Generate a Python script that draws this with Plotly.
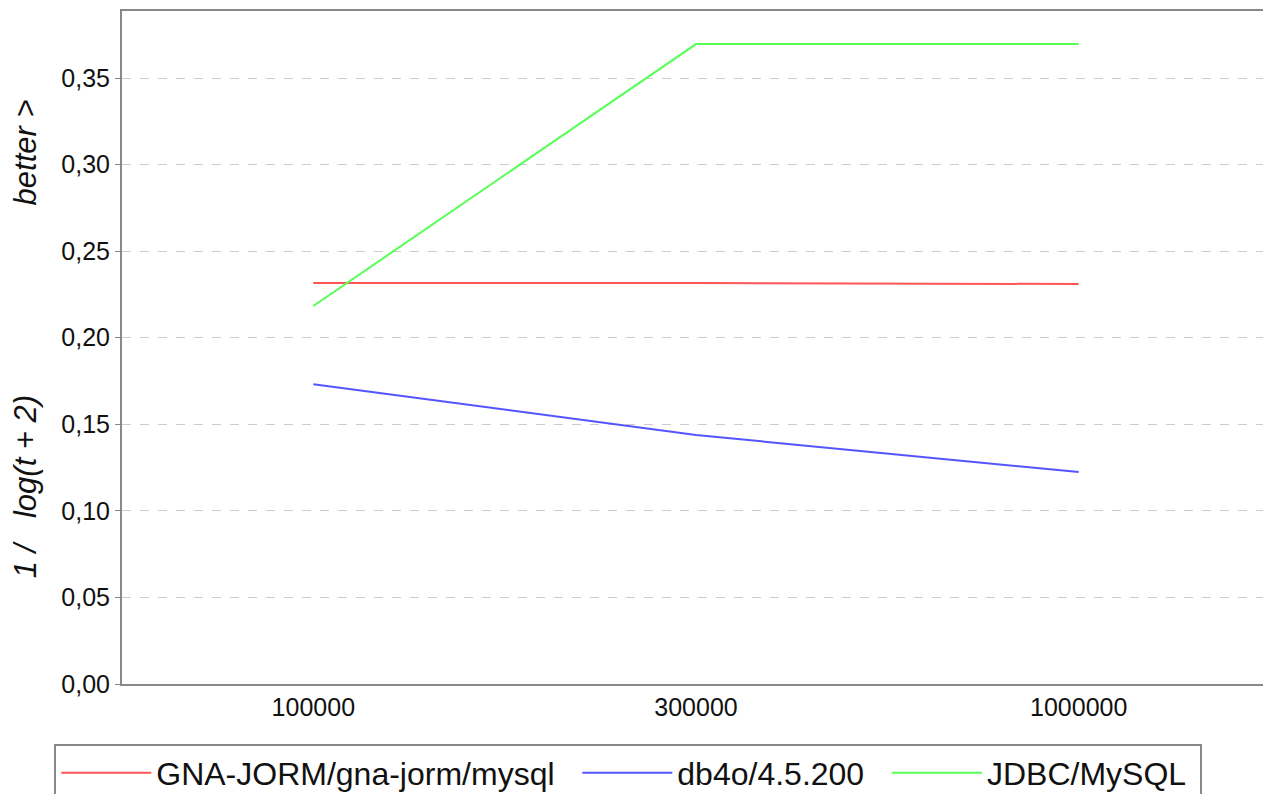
import plotly.graph_objects as go

categories = ["100000", "300000", "1000000"]
gna_jorm = [0.2316, 0.2316, 0.2310]
db4o = [0.1731, 0.1438, 0.1224]
jdbc = [0.2183, 0.3696, 0.3696]
series_names = ["GNA-JORM/gna-jorm/mysql", "db4o/4.5.200", "JDBC/MySQL"]
series_colors = ["#ff5555", "#5555ff", "#55ff55"]
y_ticks = [0.0, 0.05, 0.10, 0.15, 0.20, 0.25, 0.30, 0.35]
y_tick_labels = ["0,00", "0,05", "0,10", "0,15", "0,20", "0,25", "0,30", "0,35"]

FONT = "Liberation Sans, Arial, sans-serif"
sp = "\u00a0"

fig = go.Figure()
pads = [sp * 2, sp * 2, sp]
for name, vals, col, pad in zip(series_names, [gna_jorm, db4o, jdbc], series_colors, pads):
    fig.add_trace(go.Scatter(x=categories, y=vals, mode="lines", name=name + pad,
                             line=dict(color=col, width=2)))

ytitle = "<i>" + sp * 2 + "1" + sp + "/" + sp * 3 + "log(t + 2)" + sp * 22 + "better &gt;</i>"

fig.update_layout(
    width=1263, height=786,
    margin=dict(l=114, r=1, t=3, b=110, autoexpand=False),
    paper_bgcolor="white", plot_bgcolor="white",
    font=dict(family=FONT, size=25, color="#111"),
    showlegend=True,
    legend=dict(orientation="h", x=0.441, xanchor="center", xref="paper",
                y=-0.0885, yanchor="top",
                bgcolor="white", bordercolor="#888", borderwidth=2,
                font=dict(size=32, family=FONT, color="#111"),
                itemwidth=90, tracegroupgap=0),
    xaxis=dict(type="category", range=[-0.5, 2.5], showgrid=False,
               showline=True, linecolor="#888", linewidth=2, mirror=True,
               ticks="", tickfont=dict(size=25), zeroline=False),
    yaxis=dict(range=[0, 0.3887], tickvals=y_ticks, ticktext=y_tick_labels,
               showline=True, linecolor="#888", linewidth=2,
               ticks="outside", ticklen=5, tickcolor="#888", tickwidth=1,
               showgrid=True, gridcolor="#cccccc", griddash="dash", gridwidth=1,
               zeroline=False, tickfont=dict(size=25),
               title=dict(text=ytitle, font=dict(size=31), standoff=16)),
)

fig.write_html("out.html")
